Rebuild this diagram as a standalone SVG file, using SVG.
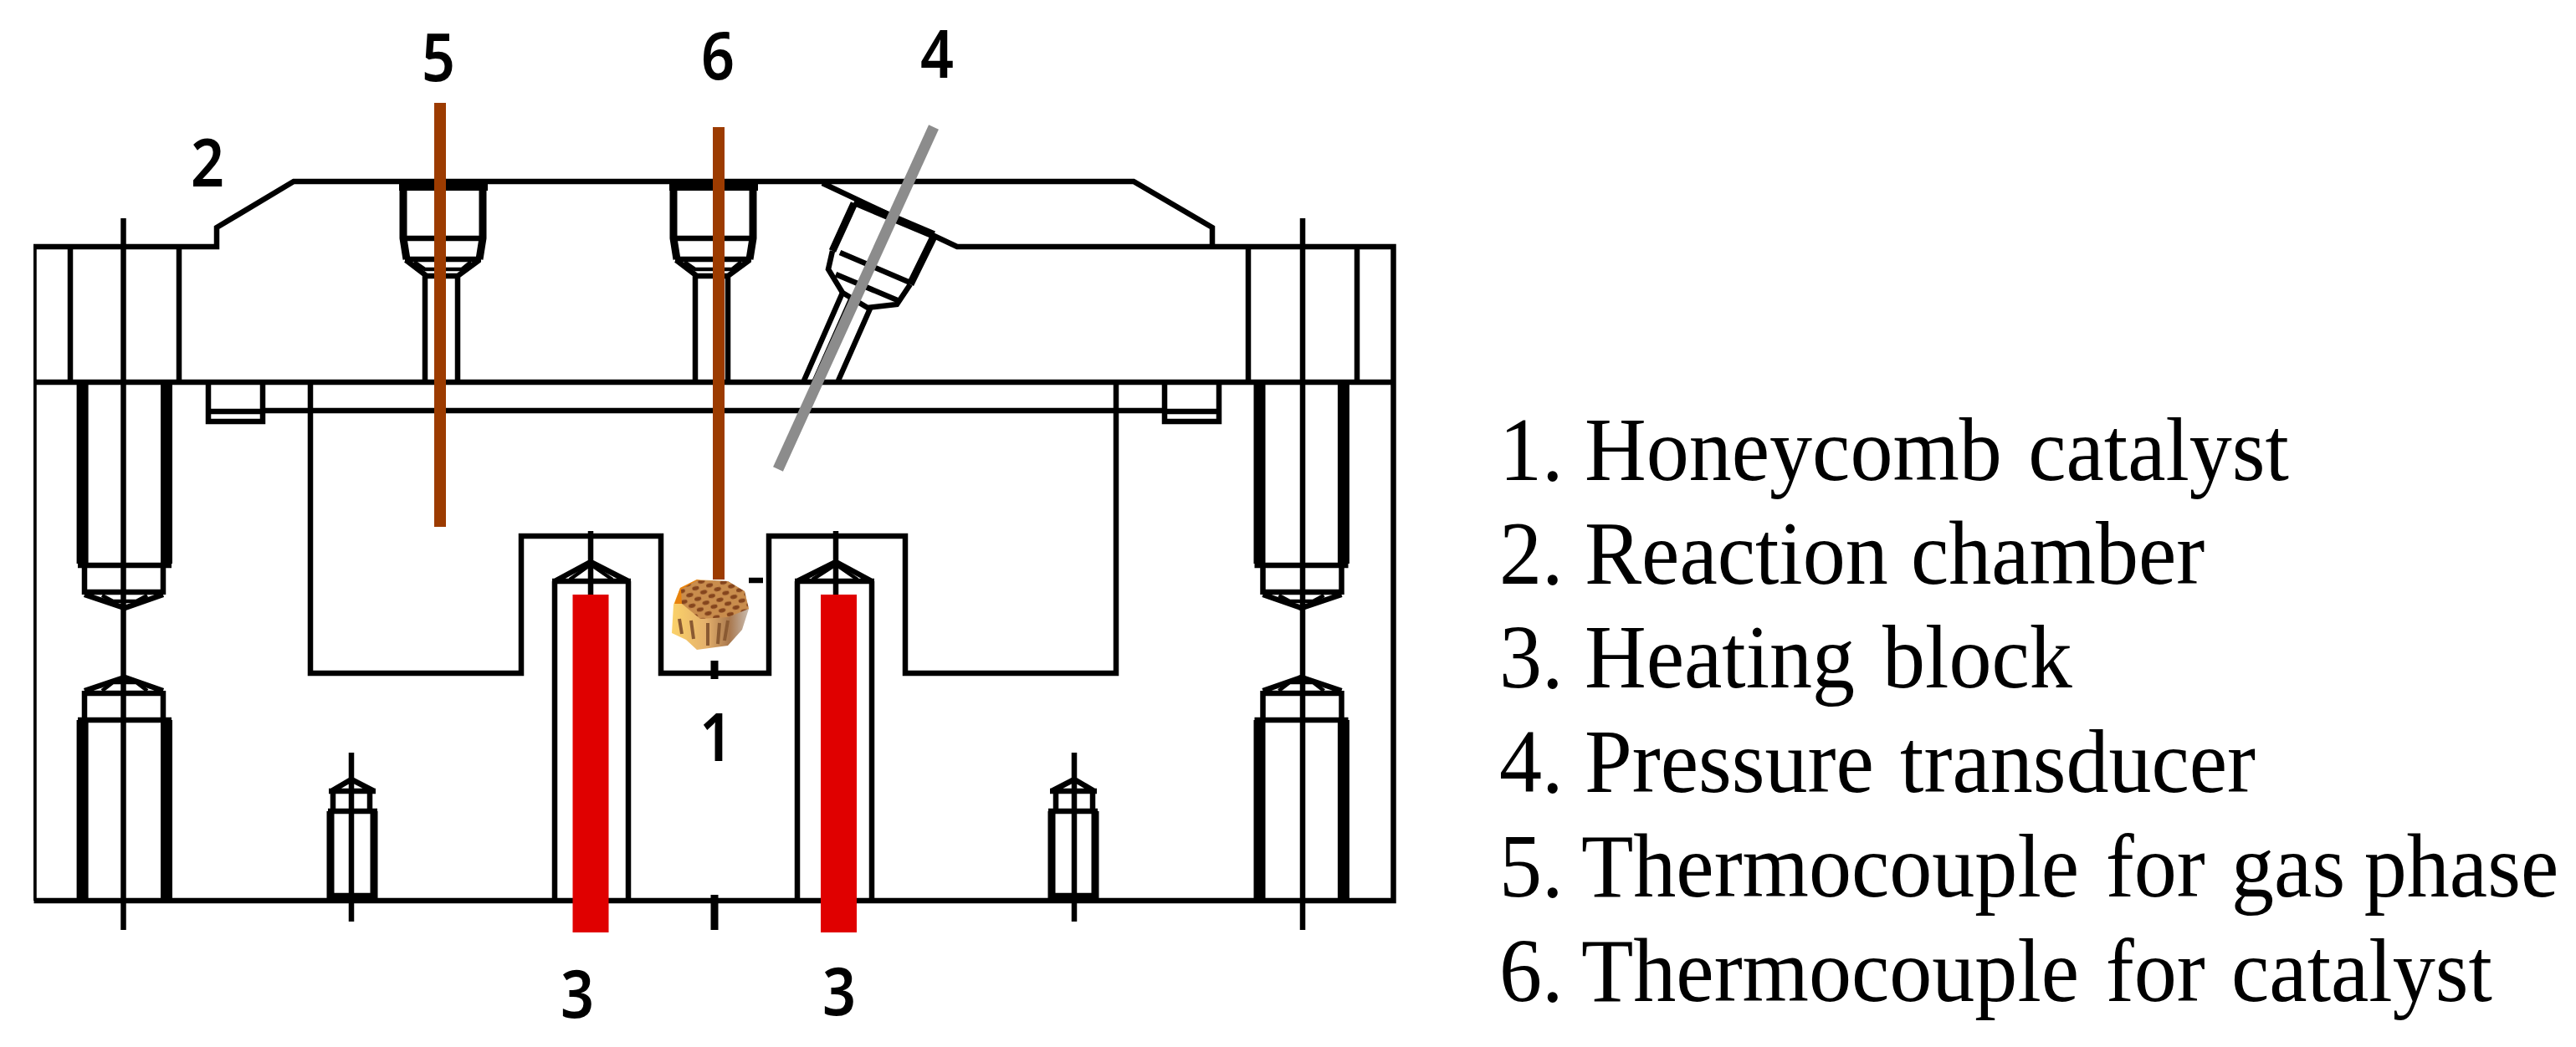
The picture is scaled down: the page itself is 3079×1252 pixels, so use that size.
<svg xmlns="http://www.w3.org/2000/svg" xmlns:xlink="http://www.w3.org/1999/xlink" width="3079" height="1252" viewBox="0 0 3079 1252">
<style>
.l{fill:none;stroke:#000;stroke-width:6.500;stroke-linejoin:miter}
.m{fill:none;stroke:#000;stroke-width:4.500}
.t{fill:none;stroke:#000;stroke-width:14}
.w{fill:none;stroke:#000;stroke-width:9}
.num{font-family:"Noto Sans","Liberation Sans",sans-serif;font-size:80px;font-weight:600;fill:#000;text-anchor:middle}
.leg{font-family:"Liberation Serif","Times New Roman",serif;font-size:108px;fill:#000}
.brown{stroke:#9c3a00;stroke-width:14;fill:none}
.grey{stroke:#8c8c8c;stroke-width:13;fill:none}
.red{fill:#e00000}
</style>
<defs>
<filter id="soft" x="0" y="0" width="100%" height="100%"><feGaussianBlur stdDeviation="0.7"/></filter>
<pattern id="comb" width="17" height="13" patternUnits="userSpaceOnUse" patternTransform="rotate(-12)">
<rect width="17" height="13" fill="#c98d4e"/>
<ellipse cx="4" cy="3" rx="4.200" ry="2.400" fill="#85451f"/>
<ellipse cx="12.500" cy="9.500" rx="4.200" ry="2.400" fill="#85451f"/>
</pattern>
<linearGradient id="side" x1="0" x2="1" y1="0" y2="0">
<stop offset="0" stop-color="#fbd26a"/><stop offset=".45" stop-color="#e4b06c"/><stop offset=".75" stop-color="#a9784e"/><stop offset="1" stop-color="#c9bcb0"/>
</linearGradient>
<g id="screw">
<rect x="477" y="218" width="106" height="10" fill="#000"/>
<path class="w" d="M482 226V285L486 310M577 226V285L573 310"/>
<path class="l" d="M484 285H577M484 310H575M485 311L510 330H547L573 311M508 330V457M547 330V457"/>
<path class="m" d="M495 313L508 322H552L563 313"/>
</g>
<g id="stud">
<path class="t" d="M98.600 457V674M199 457V674M98.600 861V1077M199 861V1077"/>
<path class="l" d="M93 676H205M101 676V711M195 676V711M101 708H195M101 711L149 727L195 711"/>
<path class="m" d="M122 712L135 719H163L176 712"/>
<path class="l" d="M101 826L149 810L195 826M101 829H195M101 826V861M195 826V861M93 861H205"/>
<path class="m" d="M122 826L135 816H163L176 826"/>
<path class="l" d="M147.500 261V1112"/>
</g>
<g id="pin">
<path class="l" d="M420 900V1102M396 946L420 932L447 946M393 946H449M398 946V968M442 946V968M392 970H451M393 1071H449"/>
<path class="w" d="M395 970V1077M447 970V1077"/>
</g>
</defs>
<rect width="3079" height="1252" fill="#fff"/>
<g filter="url(#soft)">
<g id="reaction-chamber">
<path class="l" d="M40.500 1077V295H259V272L351 217H1355L1449 272V295M983 219L1144 295H1665.500V1077H40.500"/>
<path class="l" d="M40.500 457H1665.500"/>
<path class="l" d="M84 295V457M214 295V457M1492 295V457M1622 295V457"/>
<path class="l" d="M314 491H1392"/>
<path class="l" d="M249 457V504H314V457M249 492H314M1392 457V504H1457V457M1392 492H1457"/>
<path class="l" d="M371 457V805H623V641H790V805H919V641H1082V805H1334V457"/>
<path class="w" d="M854 790V812M854 1070V1112"/>
<path class="l" d="M895 694H912"/>
</g>
<g id="left-stud"><use href="#stud"/></g>
<g id="right-stud"><use href="#stud" transform="translate(1704.500 0) scale(-1 1)"/></g>
<g id="left-pin"><use href="#pin"/></g>
<g id="right-pin"><use href="#pin" transform="translate(1704 0) scale(-1 1)"/></g>
<g id="screw-5"><use href="#screw"/></g>
<g id="screw-6"><use href="#screw" transform="translate(323 0)"/></g>
<g id="screw-4">
<path d="M1021 241L1116 281" stroke="#000" stroke-width="10" fill="none"/>
<path class="w" d="M1021 243L995 300M1116 283L1088 340"/>
<path class="l" d="M1004 302L1088 338M995 300L990 322L1007 350L1037 368L1072 364L1088 340M999 328L1075 360"/>
<path class="l" d="M1007 350L961 455M1040 369L1002 455M1018 356L974 455"/>
</g>
<g id="heating-block-left">
<path class="l" d="M663 1077V695M751 1077V695M660 695H754M663 695L706 672L751 695M706 635V711"/>
<path class="m" d="M681 693L706 675L732 693"/>
<rect class="red" x="684.500" y="711" width="43" height="404"/>
</g>
<g id="heating-block-right">
<path class="l" d="M953 1077V695M1042 1077V695M950 695H1045M953 695L999 672L1042 695M999 635V711"/>
<path class="m" d="M971 693L999 675L1025 693"/>
<rect class="red" x="981" y="711" width="43" height="404"/>
</g>
<g id="honeycomb-catalyst">
<path fill="url(#side)" d="M803 757L805 723L813 703L833 693L870 695L890 707L895 728L887 753L870 772L833 777L820 765Z"/>
<path fill="#e8820f" d="M813 703L833 693L850 697L822 722L806 722Z"/>
<path fill="url(#comb)" d="M814 705L833 694L870 695L890 707L895 728L870 738L837 740L815 722Z"/>
<path stroke="#8a5a32" stroke-width="4" fill="none" d="M812 740L815 758M826 742L829 764M846 745L846 772M860 745L858 770M870 742L866 766"/>
</g>
<g id="connectors">
<path class="brown" d="M526 123V630"/>
<path class="brown" d="M859 152V693"/>
<path class="grey" d="M1116 152L930 561"/>
</g>
<g id="labels">
<text class="num" x="524" y="97" textLength="40" lengthAdjust="spacingAndGlyphs">5</text>
<text class="num" x="248" y="223" textLength="40" lengthAdjust="spacingAndGlyphs">2</text>
<text class="num" x="858" y="95" textLength="40" lengthAdjust="spacingAndGlyphs">6</text>
<text class="num" x="1120" y="93" textLength="40" lengthAdjust="spacingAndGlyphs">4</text>
<text class="num" x="690" y="1217" textLength="40" lengthAdjust="spacingAndGlyphs">3</text>
<text class="num" x="1003" y="1214" textLength="40" lengthAdjust="spacingAndGlyphs">3</text>
<text class="num" x="856" y="910" textLength="40" lengthAdjust="spacingAndGlyphs">1</text>
</g>
<g id="legend" transform="translate(1792 0) scale(.945 1)">
<text class="leg" y="574"><tspan x="0">1.</tspan> <tspan x="108">Honeycomb</tspan> <tspan x="669">catalyst</tspan></text>
<text class="leg" y="698.500"><tspan x="0">2.</tspan> <tspan x="108">Reaction</tspan> <tspan x="520.600">chamber</tspan></text>
<text class="leg" y="822.500"><tspan x="0">3.</tspan> <tspan x="108">Heating</tspan> <tspan x="484.700">block</tspan></text>
<text class="leg" y="947.500"><tspan x="0">4.</tspan> <tspan x="108">Pressure</tspan> <tspan x="507">transducer</tspan></text>
<text class="leg" y="1072.500"><tspan x="0">5.</tspan> <tspan x="103.700">Thermocouple</tspan> <tspan x="767">for</tspan> <tspan x="926">gas</tspan> <tspan x="1094">phase</tspan></text>
<text class="leg" y="1197.500"><tspan x="0">6.</tspan> <tspan x="103.700">Thermocouple</tspan> <tspan x="767">for</tspan> <tspan x="926">catalyst</tspan></text>
</g>
</g>
</svg>
